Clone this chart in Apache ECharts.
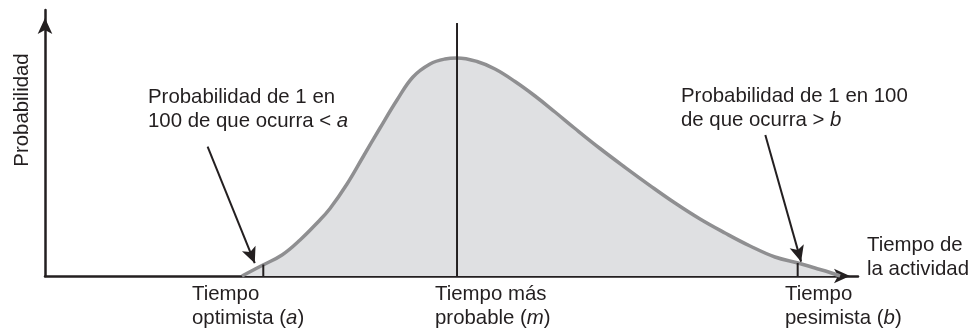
<!DOCTYPE html>
<html>
<head>
<meta charset="utf-8">
<script src="https://cdn.jsdelivr.net/npm/echarts@6/dist/echarts.min.js"></script>
<style>
html,body{margin:0;padding:0;background:#fff;}
#chart{width:976px;height:330px;}
</style>
</head>
<body>
<div id="chart"></div>
<script>
// Curve of the activity-time distribution (x: time, y: probability)
const curveX = [24.23, 26.81, 29.15, 31.37, 33.58, 35.06, 37.15, 39.11, 41.21, 43.30, 45.26, 47.36, 49.20, 50.68, 53.14, 55.35, 57.81, 60.27, 62.73, 65.19, 68.27, 71.34, 74.42, 77.49, 80.57, 83.64, 86.72, 89.79, 92.62, 94.71, 96.56, 97.79];
const curveY = [0, 4.14, 7.89, 13.53, 20.30, 25.38, 34.59, 44.74, 55.64, 66.17, 74.81, 79.70, 81.58, 81.95, 80.64, 77.82, 73.12, 67.67, 61.65, 55.45, 47.93, 40.86, 34.0, 27.44, 21.43, 16.17, 11.28, 7.14, 4.89, 3.01, 1.32, 0];
// Key times: optimistic a, most likely m, pessimistic b
const keyTimes = [26.85, 50.68, 92.58];
const keyTops = [4.3, 95.1, 4.9];
// Annotation arrows [start, tip]
const leftArrow = [[20.0, 48.6], [25.8, 4.8]];
const rightArrow = [[88.6, 53.0], [93.0, 5.4]];
// Texts
const yTitle = 'Probabilidad';
const xTitle = ['Tiempo de', 'la actividad'];
const noteLeft = ['Probabilidad de 1 en', '100 de que ocurra < ', 'a'];
const noteRight = ['Probabilidad de 1 en 100', 'de que ocurra > ', 'b'];
const keyLabels = [['Tiempo', 'optimista (', 'a', ')'], ['Tiempo más', 'probable (', 'm', ')'], ['Tiempo', 'pesimista (', 'b', ')']];

const INK = '#231f20';
const FONT = "'Liberation Sans', Arial, Helvetica, sans-serif";
const FS = 20.4;
const rich = {
  n: {fontSize: FS, fontFamily: FONT, fill: INK, lineHeight: 24},
  i: {fontSize: FS, fontFamily: FONT, fill: INK, lineHeight: 24, fontStyle: 'italic'}
};
function txt(x, y, text, align) {
  return {type: 'text', x: x, y: y, z: 100,
    style: {text: text, rich: rich, align: align || 'left', verticalAlign: 'top', fill: INK, font: FS + 'px ' + FONT, lineHeight: 24}};
}
function keyText(k) {
  const l = keyLabels[k];
  return '{n|' + l[0] + '}\n{n|' + l[1] + '}{i|' + l[2] + '}{n|' + l[3] + '}';
}

const chart = echarts.init(document.getElementById('chart'), null, {renderer: 'canvas'});
const curveData = curveX.map((x, i) => [x, curveY[i]]);
const vlines = keyTimes.map((t, i) => ({
  type: 'line', data: [[t, 0], [t, keyTops[i]]], showSymbol: false, symbol: 'none',
  lineStyle: {color: INK, width: 2}, z: 4, silent: true
}));

chart.setOption({
  animation: false,
  backgroundColor: '#ffffff',
  grid: {left: 45, right: 118, top: 10, bottom: 54},
  xAxis: {
    type: 'value', min: 0, max: 100,
    axisLine: {show: true, symbol: ['none', 'arrow'], symbolSize: [11, 16], symbolOffset: [0, -8],
      lineStyle: {color: INK, width: 2.5}},
    axisTick: {show: false}, axisLabel: {show: false}, splitLine: {show: false}
  },
  yAxis: {
    type: 'value', min: 0, max: 100,
    axisLine: {show: true, symbol: ['none', 'arrow'], symbolSize: [11, 16], symbolOffset: [0, -8],
      lineStyle: {color: INK, width: 2.5}},
    axisTick: {show: false}, axisLabel: {show: false}, splitLine: {show: false}
  },
  series: [
    {
      type: 'line', data: curveData, smooth: 0.4, showSymbol: false, symbol: 'none',
      lineStyle: {color: '#8f8f91', width: 3.5},
      areaStyle: {color: '#dfe0e2', opacity: 1}, z: 2, silent: true
    }
  ].concat(vlines).concat([
    {
      type: 'line', data: [], z: 5, silent: true,
      markLine: {
        silent: true, animation: false,
        symbol: ['none', 'arrow'], symbolSize: [11, 16],
        label: {show: false},
        lineStyle: {color: INK, width: 2, type: 'solid'},
        data: [
          [{coord: leftArrow[0]}, {coord: leftArrow[1]}],
          [{coord: rightArrow[0]}, {coord: rightArrow[1]}]
        ]
      }
    }
  ]),
  graphic: [
    {type: 'text', x: 22, y: 110, rotation: Math.PI / 2, z: 100,
      style: {text: yTitle, fill: INK, font: FS + 'px ' + FONT, align: 'center', verticalAlign: 'middle'}},
    txt(148, 85, '{n|' + noteLeft[0] + '}\n{n|' + noteLeft[1] + '}{i|' + noteLeft[2] + '}'),
    txt(681, 84, '{n|' + noteRight[0] + '}\n{n|' + noteRight[1] + '}{i|' + noteRight[2] + '}'),
    txt(867, 233, '{n|' + xTitle[0] + '}\n{n|' + xTitle[1] + '}'),
    txt(192, 282, keyText(0)),
    txt(435, 282, keyText(1)),
    txt(785, 282, keyText(2))
  ]
});
</script>
</body>
</html>
